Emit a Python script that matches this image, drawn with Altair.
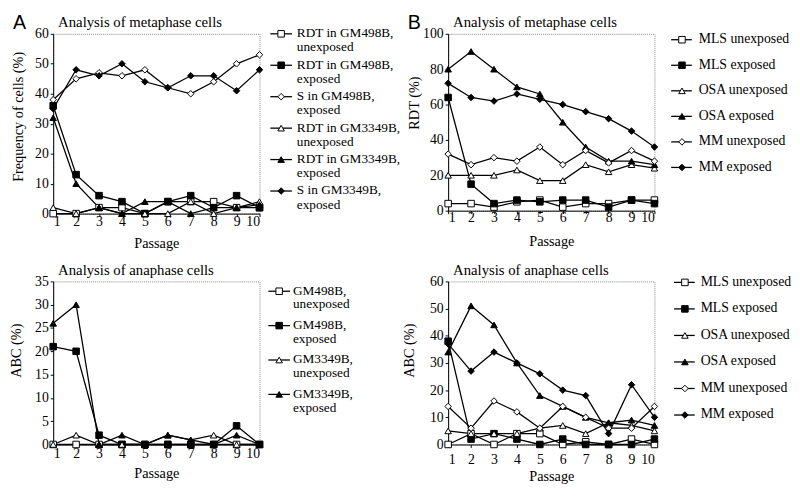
import altair as alt
import pandas as pd

passage = [1, 2, 3, 4, 5, 6, 7, 8, 9, 10]

# ---------------- Panel A, metaphase ----------------
a_meta_keys = ["RDT in GM498B, unexposed", "RDT in GM498B, exposed", "S in GM498B, exposed",
               "RDT in GM3349B, unexposed", "RDT in GM3349B, exposed", "S in GM3349B, exposed"]
a_meta_labels = ["RDT in GM498B,\nunexposed", "RDT in GM498B,\nexposed", "S in GM498B,\nexposed",
                 "RDT in GM3349B,\nunexposed", "RDT in GM3349B,\nexposed", "S in GM3349B,\nexposed"]
a_meta_rdt498_unexp = [0, 0, 2, 2, 0, 4, 4, 4, 2, 2]
a_meta_rdt498_exp = [36, 13, 6, 4, 0, 4, 6, 2, 6, 2]
a_meta_s498_exp = [38, 45, 47, 46, 48, 42, 40, 44, 50, 53]
a_meta_rdt3349_unexp = [2, 0, 2, 0, 0, 0, 4, 0, 2, 4]
a_meta_rdt3349_exp = [32, 10, 2, 0, 4, 4, 0, 2, 2, 3]
a_meta_s3349_exp = [35, 48, 46, 50, 44, 42, 46, 46, 41, 48]

# ---------------- Panel A, anaphase ----------------
a_ana_keys = ["GM498B, unexposed", "GM498B, exposed", "GM3349B, unexposed", "GM3349B, exposed"]
a_ana_labels = ["GM498B,\nunexposed", "GM498B,\nexposed", "GM3349B,\nunexposed", "GM3349B,\nexposed"]
a_ana_498_unexp = [0, 0, 0, 0, 0, 0, 0, 0, 0, 0]
a_ana_498_exp = [21, 20, 2, 0, 0, 0, 0, 0, 4, 0]
a_ana_3349_unexp = [0, 2, 0, 0, 0, 2, 1, 2, 0, 0]
a_ana_3349_exp = [26, 30, 0, 2, 0, 2, 1, 0, 2, 0]

# ---------------- Panel B ----------------
b_keys = ["MLS unexposed", "MLS exposed", "OSA unexposed", "OSA exposed", "MM unexposed", "MM exposed"]
b_meta_mls_unexp = [4, 4, 2, 5, 6, 2, 4, 4, 6, 6]
b_meta_mls_exp = [64, 15, 4, 6, 5, 6, 6, 2, 6, 4]
b_meta_osa_unexp = [20, 20, 20, 23, 17, 17, 26, 22, 26, 24]
b_meta_osa_exp = [80, 90, 80, 70, 66, 50, 36, 28, 28, 26]
b_meta_mm_unexp = [32, 26, 30, 28, 36, 26, 34, 27, 34, 28]
b_meta_mm_exp = [72, 64, 62, 66, 63, 60, 56, 52, 45, 36]

b_ana_mls_unexp = [0, 4, 0, 4, 4, 0, 1, 0, 2, 0]
b_ana_mls_exp = [38, 2, 4, 2, 0, 2, 0, 0, 0, 2]
b_ana_osa_unexp = [5, 4, 4, 4, 6, 7, 4, 8, 7, 5]
b_ana_osa_exp = [34, 51, 44, 30, 18, 14, 10, 8, 9, 7]
b_ana_mm_unexp = [14, 6, 16, 12, 6, 14, 10, 6, 6, 14]
b_ana_mm_exp = [37, 27, 34, 30, 26, 20, 18, 4, 22, 10]

# ---------------- marker styles ----------------
marker_style = {
    "RDT in GM498B, unexposed": ("square", "white"),
    "RDT in GM498B, exposed": ("square", "black"),
    "S in GM498B, exposed": ("diamond", "white"),
    "RDT in GM3349B, unexposed": ("triangle-up", "white"),
    "RDT in GM3349B, exposed": ("triangle-up", "black"),
    "S in GM3349B, exposed": ("diamond", "black"),
    "GM498B, unexposed": ("square", "white"),
    "GM498B, exposed": ("square", "black"),
    "GM3349B, unexposed": ("triangle-up", "white"),
    "GM3349B, exposed": ("triangle-up", "black"),
    "MLS unexposed": ("square", "white"),
    "MLS exposed": ("square", "black"),
    "OSA unexposed": ("triangle-up", "white"),
    "OSA exposed": ("triangle-up", "black"),
    "MM unexposed": ("diamond", "white"),
    "MM exposed": ("diamond", "black"),
}
dom = list(marker_style.keys())
shape_scale = alt.Scale(domain=dom, range=[marker_style[k][0] for k in dom])
fill_scale = alt.Scale(domain=dom, range=[marker_style[k][1] for k in dom])

SERIF = "'Liberation Serif', 'Times New Roman', serif"
PT_SIZE = 44


def shape_enc():
    return alt.Shape("series:N", scale=shape_scale, legend=None)


def fill_enc():
    return alt.Fill("series:N", scale=fill_scale, legend=None)


def plot_panel(keys, values, ydom, ystep, ytitle, title, height, letter,
               x_lab_pad, x_title_y, y_title_x, y_title_y):
    rows = []
    for k, vals in zip(keys, values):
        for p, v in zip(passage, vals):
            rows.append({"passage": p, "value": v, "series": k})
    df = pd.DataFrame(rows)
    x = alt.X("passage:Q", scale=alt.Scale(domain=[1, 10], nice=False, zero=False),
              axis=alt.Axis(values=passage, format="d", title="Passage", grid=False,
                            tickSize=3, labelPadding=x_lab_pad, titleY=x_title_y,
                            titleBaseline="middle"))
    y = alt.Y("value:Q", scale=alt.Scale(domain=ydom, nice=False, zero=True),
              axis=alt.Axis(values=list(range(ydom[0], ydom[1] + 1, ystep)), title=ytitle,
                            grid=False, tickSize=3, labelPadding=2,
                            titleX=y_title_x, titleY=y_title_y, titleBaseline="middle"))
    base = alt.Chart(df).encode(x=x, y=y)
    lines = base.mark_line(color="black", strokeWidth=1.3).encode(
        detail="series:N", order="passage:Q")
    pts = base.mark_point(size=PT_SIZE, stroke="black", strokeWidth=1, opacity=1,
                          fillOpacity=1).encode(shape=shape_enc(), fill=fill_enc())
    ttl = alt.Chart(pd.DataFrame({"title": [title]})).mark_text(
        font=SERIF, fontSize=15, align="left", baseline="alphabetic",
        color="black").encode(text="title:N", x=alt.value(5), y=alt.value(-7))
    layers = [lines, pts, ttl]
    if letter:
        lt = alt.Chart(pd.DataFrame({"letter": [letter]})).mark_text(
            font="Liberation Sans, Arial, sans-serif", fontSize=20, align="left",
            baseline="top", color="black").encode(
            text="letter:N", x=alt.value(-41), y=alt.value(-21))
        layers.append(lt)
    return alt.layer(*layers,
                     view=alt.ViewBackground(stroke="#888888", strokeDash=[1, 1],
                                             strokeWidth=1)
                     ).properties(width=210, height=height)


def legend_panel(keys, labels, height, width, step, offset, xl0, xl1, xm, xt, fs, lh):
    ldf = pd.DataFrame({"series": keys, "label": labels, "idx": list(range(len(keys)))})
    lo = -offset / step
    hi = lo + height / step
    ys = alt.Y("idx:Q", scale=alt.Scale(domain=[lo, hi], reverse=True, nice=False, zero=False),
               axis=None)
    base = alt.Chart(ldf)
    rule = base.mark_rule(color="black", strokeWidth=1.3).encode(
        x=alt.value(xl0), x2=alt.value(xl1), y=ys)
    pts = base.mark_point(size=PT_SIZE, stroke="black", strokeWidth=1, opacity=1,
                          fillOpacity=1).encode(x=alt.value(xm), y=ys,
                                                shape=shape_enc(), fill=fill_enc())
    txt = base.mark_text(align="left", baseline="top", dy=-7.5, lineBreak="\n",
                         fontSize=fs, lineHeight=lh, font=SERIF, color="black").encode(
        x=alt.value(xt), y=ys, text="label:N")
    return alt.layer(rule, pts, txt,
                     view=alt.ViewBackground(stroke="transparent")
                     ).properties(width=width, height=height)


TOP_H = 183
BOT_H = 166

a_top = plot_panel(a_meta_keys,
                   [a_meta_rdt498_unexp, a_meta_rdt498_exp, a_meta_s498_exp,
                    a_meta_rdt3349_unexp, a_meta_rdt3349_exp, a_meta_s3349_exp],
                   [0, 60], 10, "Frequency of cells (%)", "Analysis of metaphase cells",
                   TOP_H, "A", -2, 30, -35, 84)
a_top_leg = legend_panel(a_meta_keys, a_meta_labels, TOP_H, 182, 32, 0, 6, 28, 17, 33, 13.5, 14.5)

a_bot = plot_panel(a_ana_keys,
                   [a_ana_498_unexp, a_ana_498_exp, a_ana_3349_unexp, a_ana_3349_exp],
                   [0, 35], 5, "ABC (%)", "Analysis of anaphase cells",
                   BOT_H, None, -1, 30, -37, 70)
a_bot_leg = legend_panel(a_ana_keys, a_ana_labels, BOT_H, 182, 35, 10, 4, 26, 15, 29, 13.5, 14)

b_top = plot_panel(b_keys,
                   [b_meta_mls_unexp, b_meta_mls_exp, b_meta_osa_unexp, b_meta_osa_exp,
                    b_meta_mm_unexp, b_meta_mm_exp],
                   [0, 100], 20, "RDT (%)", "Analysis of metaphase cells",
                   180, "B", -3, 31, -34, 70)
b_top_leg = legend_panel(b_keys, b_keys, 180, 118, 26, 6, 12, 33, 23, 40, 14, 14)

b_bot = plot_panel(b_keys,
                   [b_ana_mls_unexp, b_ana_mls_exp, b_ana_osa_unexp, b_ana_osa_exp,
                    b_ana_mm_unexp, b_ana_mm_exp],
                   [0, 60], 10, "ABC (%)", "Analysis of anaphase cells",
                   BOT_H, None, 5, 33, -39, 70)
b_bot_leg = legend_panel(b_keys, b_keys, BOT_H, 118, 27, 1, 15, 36, 26, 42, 14, 14)

chart = alt.concat(
    a_top, a_top_leg, b_top, b_top_leg,
    a_bot, a_bot_leg, b_bot, b_bot_leg,
    columns=4, spacing={"row": 69, "column": 5}, bounds="flush"
).resolve_scale(
    x="independent", y="independent"
).resolve_axis(
    x="independent", y="independent"
).properties(
    padding=0, background="white"
).configure_axis(
    labelFont=SERIF, titleFont=SERIF, labelFontSize=14, titleFontSize=14.5,
    labelColor="black", titleColor="black", domainColor="black", tickColor="black",
    titleFontWeight="normal", domainWidth=1, tickWidth=1
).configure_view(stroke="transparent")

chart.save("out.html", embed_options={"renderer": "svg", "actions": False})
